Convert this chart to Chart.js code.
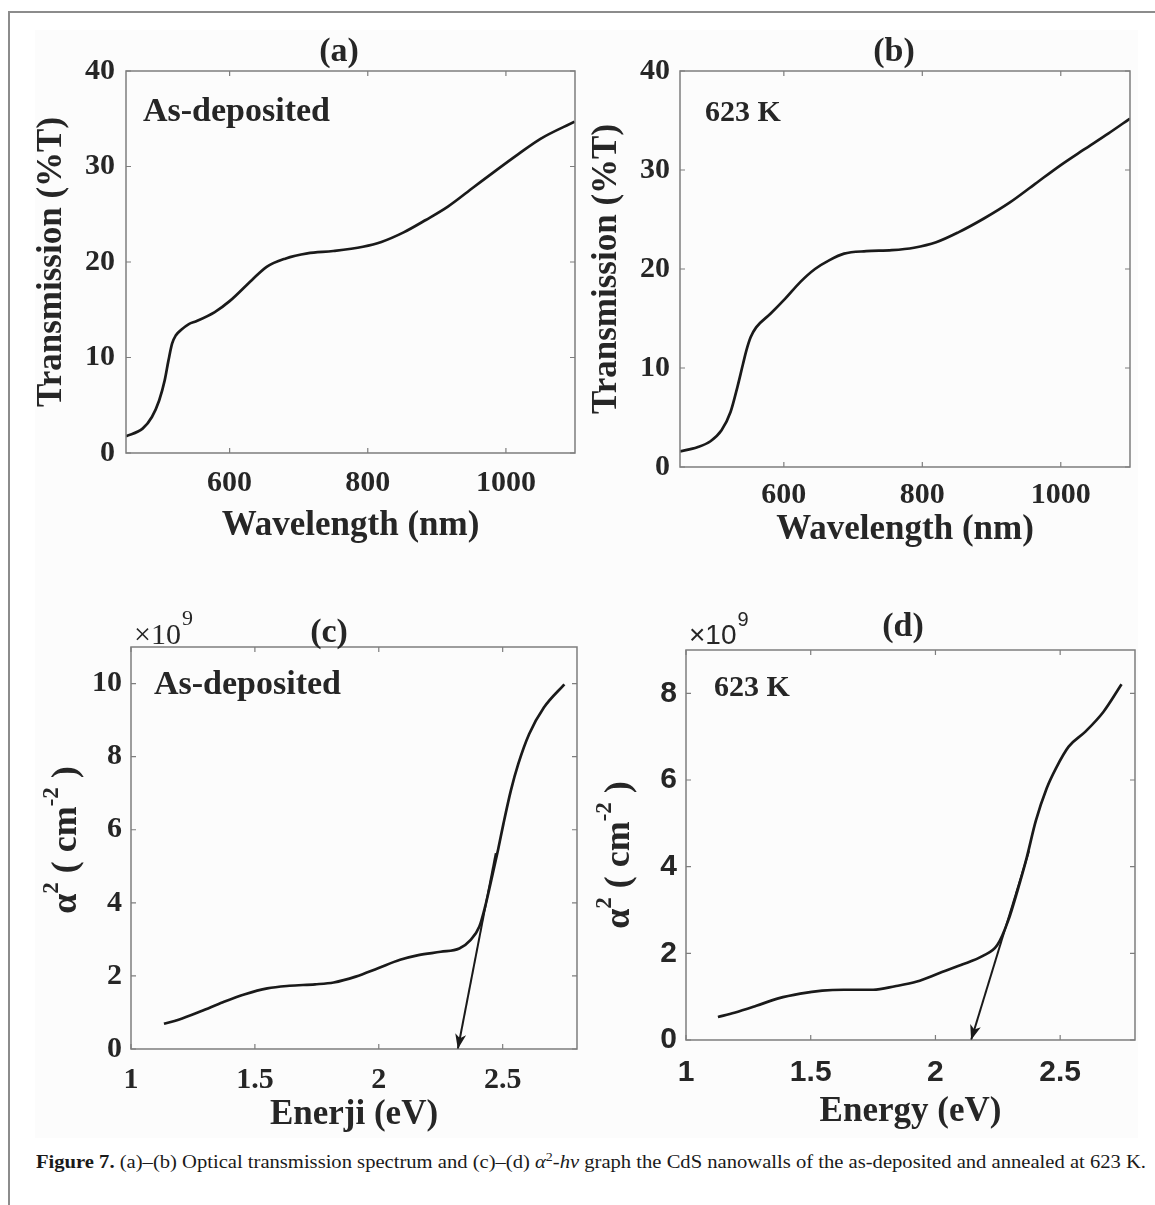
<!DOCTYPE html>
<html><head><meta charset="utf-8">
<script src="https://cdn.jsdelivr.net/npm/chart.js@4.4.1/dist/chart.umd.min.js"></script>
<style>
html,body{margin:0;padding:0;background:#fff;}
body{width:1155px;height:1205px;position:relative;overflow:hidden;}
#frameL{position:absolute;left:8px;top:11px;width:2px;height:1194px;background:#8c8c8c;}
#frameT{position:absolute;left:8px;top:11px;width:1147px;height:2px;background:#8c8c8c;}
#fig{position:absolute;left:35px;top:30px;width:1103px;height:1108px;background:#fcfcfc;}
canvas.pane{position:absolute;}
#caption{position:absolute;left:36px;top:1150px;white-space:nowrap;font-family:"Liberation Serif",serif;font-size:19.5px;line-height:24px;color:#1a1a1a;transform-origin:0 0;}
#caption sup{font-size:0.68em;vertical-align:0;position:relative;top:-0.55em;}
</style></head>
<body>
<div id="frameL"></div><div id="frameT"></div><div id="fig"></div>
<canvas id="ca" class="pane" width="590" height="580" style="left:0;top:0"></canvas>
<canvas id="cb" class="pane" width="565" height="580" style="left:590px;top:0"></canvas>
<canvas id="cc" class="pane" width="590" height="560" style="left:0;top:580px"></canvas>
<canvas id="cd" class="pane" width="565" height="560" style="left:590px;top:580px"></canvas>
<div id="caption"><b>Figure 7.</b> (a)–(b) Optical transmission spectrum and (c)–(d) <i>α</i><sup>2</sup>-<i>hv</i> graph the CdS nanowalls of the as-deposited and annealed at 623 K.</div>
<script>
// ===================== DATA =====================
// (a) as-deposited transmission
const wavelengthA   = [450, 474, 487.5, 498, 506, 511.5, 516.7, 522, 530, 541, 551.7, 578.5, 600, 632, 653.6, 680.4, 712.6, 750, 793, 819.7, 851.9, 884, 916, 953.6, 985.8, 1018, 1050, 1099.5];
const transmissionA = [1.75, 2.55, 3.77, 5.5, 7.6, 9.7, 11.45, 12.3, 12.9, 13.5, 13.8, 14.76, 15.9, 18.1, 19.5, 20.35, 20.9, 21.15, 21.6, 22.1, 23.1, 24.4, 25.8, 27.85, 29.6, 31.3, 32.9, 34.7];
// (b) 623 K transmission
const wavelengthB   = [450, 475, 494, 510, 523, 533, 541, 546, 552, 560, 581, 602, 624, 645, 666, 687, 719, 756, 788, 820, 852, 889, 926, 963, 1000, 1032, 1069, 1100];
const transmissionB = [1.58, 2.0, 2.6, 3.7, 5.55, 8.1, 10.4, 11.8, 13.1, 14.1, 15.5, 17.0, 18.7, 20.0, 20.9, 21.55, 21.8, 21.9, 22.15, 22.7, 23.7, 25.1, 26.7, 28.6, 30.5, 32.0, 33.7, 35.2];
// (c) as-deposited alpha^2 (x1e9) vs energy
const energyC  = [1.133, 1.192, 1.282, 1.371, 1.46, 1.55, 1.639, 1.743, 1.818, 1.907, 1.997, 2.086, 2.16, 2.25, 2.325, 2.37, 2.406, 2.429, 2.451, 2.481, 2.503, 2.533, 2.563, 2.607, 2.667, 2.749];
const alphaSqC = [0.69, 0.8, 1.03, 1.28, 1.5, 1.66, 1.73, 1.77, 1.82, 1.98, 2.21, 2.44, 2.57, 2.66, 2.75, 2.98, 3.35, 3.89, 4.53, 5.44, 6.16, 7.07, 7.8, 8.62, 9.35, 9.98];
// (d) 623 K alpha^2 (x1e9) vs energy
const energyD  = [1.128, 1.194, 1.282, 1.37, 1.458, 1.546, 1.633, 1.75, 1.838, 1.926, 2.014, 2.102, 2.19, 2.248, 2.292, 2.329, 2.366, 2.402, 2.446, 2.483, 2.534, 2.6, 2.673, 2.746];
const alphaSqD = [0.53, 0.63, 0.79, 0.96, 1.07, 1.14, 1.16, 1.16, 1.24, 1.35, 1.54, 1.73, 1.94, 2.19, 2.76, 3.45, 4.21, 5.05, 5.81, 6.27, 6.77, 7.11, 7.57, 8.21];
// tangent (band-gap) arrows: start -> tip
const arrowCx = [2.472, 2.319];
const arrowCy = [5.36, 0];
const arrowDx = [2.375, 2.143];
const arrowDy = [4.36, 0];
// axis ranges and ticks
const wavelengthRange = [450, 1100];
const transRange = [0, 40];
const energyRange = [1, 2.8];
const alphaRangeC = [0, 11];
const alphaRangeD = [0, 9];
const wavelengthTicks = [600, 800, 1000];
const wavelengthTickLabels = ['600', '800', '1000'];
const transTicks = [0, 10, 20, 30, 40];
const transTickLabels = ['0', '10', '20', '30', '40'];
const energyTicks = [1, 1.5, 2, 2.5];
const energyTickLabels = ['1', '1.5', '2', '2.5'];
const alphaTicksC = [0, 2, 4, 6, 8, 10];
const alphaTickLabelsC = ['0', '2', '4', '6', '8', '10'];
const alphaTicksD = [0, 2, 4, 6, 8];
const alphaTickLabelsD = ['0', '2', '4', '6', '8'];
// texts
const panelLetters = ['(a)', '(b)', '(c)', '(d)'];
const sampleNotes = ['As-deposited', '623 K', 'As-deposited', '623 K'];
const xTitles = ['Wavelength (nm)', 'Wavelength (nm)', 'Enerji (eV)', 'Energy (eV)'];
const yTitleTrans = 'Transmission (%T)';

// ===================== STYLE / LAYOUT =====================
const SERIF = '"Liberation Serif", "Times New Roman", serif';
const SANS = '"Liberation Sans", Arial, sans-serif';
const TXT = '#262626';
const LINE = '#1a1a1a';
const BOX = '#7d7d7d';
const XH = 100;

const pts = (xs, ys) => xs.map((x, i) => ({x: x, y: ys[i]}));

const decor = {
  id: 'decor',
  afterDraw(chart) {
    const o = chart.options.plugins.decor;
    const ctx = chart.ctx;
    const ca = chart.chartArea;
    const xs = chart.scales.x, ys = chart.scales.y;
    ctx.save();
    // box
    ctx.strokeStyle = BOX; ctx.lineWidth = 1.5;
    ctx.strokeRect(ca.left, ca.top, ca.right - ca.left, ca.bottom - ca.top);
    // inward ticks on all sides
    ctx.lineWidth = 1.2;
    ctx.beginPath();
    xs.ticks.forEach(t => {
      const p = xs.getPixelForValue(t.value);
      ctx.moveTo(p, ca.bottom); ctx.lineTo(p, ca.bottom - 5);
      ctx.moveTo(p, ca.top); ctx.lineTo(p, ca.top + 5);
    });
    ys.ticks.forEach(t => {
      const p = ys.getPixelForValue(t.value);
      ctx.moveTo(ca.left, p); ctx.lineTo(ca.left + 5, p);
      ctx.moveTo(ca.right, p); ctx.lineTo(ca.right - 5, p);
    });
    ctx.stroke();
    const ox = o.cx, oy = o.cy;
    ctx.fillStyle = TXT;
    // panel letter
    ctx.font = 'bold 34px ' + SERIF;
    ctx.textAlign = 'center'; ctx.textBaseline = 'middle';
    ctx.fillText(o.letter, o.letterPos[0] - ox, o.letterPos[1] - oy);
    // sample note
    ctx.font = 'bold ' + o.noteSize + 'px ' + SERIF;
    ctx.textAlign = 'left';
    ctx.fillText(o.note, o.notePos[0] - ox, o.notePos[1] - oy);
    // multiplier x10^9
    if (o.mult) {
      const f = o.mult.font;
      ctx.font = o.mult.size + 'px ' + f;
      ctx.textAlign = 'left'; ctx.textBaseline = 'middle';
      const mx = o.mult.pos[0] - ox, my = o.mult.pos[1] - oy;
      ctx.fillText('×10', mx, my);
      const w = ctx.measureText('×10').width;
      ctx.font = Math.round(o.mult.size * 0.72) + 'px ' + f;
      ctx.fillText('9', mx + w + 1, my - o.mult.size * 0.55);
    }
    // custom y title alpha^2 ( cm^-2 )
    if (o.alphaTitle) {
      const big = 'bold 36px ' + SERIF, small = 'bold 23px ' + SERIF;
      const parts = [['α', big, 0], ['2', small, -15], [' ( cm', big, 0], ['-2', small, -15], [' )', big, 0]];
      let total = 0;
      parts.forEach(p => { ctx.font = p[1]; total += ctx.measureText(p[0]).width; });
      ctx.translate(o.alphaTitle[0] - ox, o.alphaTitle[1] - oy);
      ctx.rotate(-Math.PI / 2);
      ctx.textAlign = 'left'; ctx.textBaseline = 'middle';
      let x = -total / 2;
      parts.forEach(p => { ctx.font = p[1]; ctx.fillText(p[0], x, p[2]); x += ctx.measureText(p[0]).width; });
      ctx.setTransform(1, 0, 0, 1, 0, 0);
    }
    // arrowhead
    if (o.arrowDs !== undefined) {
      const d = chart.data.datasets[o.arrowDs].data;
      const a = d[d.length - 2], b = d[d.length - 1];
      const x1 = xs.getPixelForValue(a.x), y1 = ys.getPixelForValue(a.y);
      const x2 = xs.getPixelForValue(b.x), y2 = ys.getPixelForValue(b.y);
      const ang = Math.atan2(y2 - y1, x2 - x1);
      const L = 15, W = 5.5, N = 4;
      ctx.translate(x2, y2); ctx.rotate(ang);
      ctx.fillStyle = LINE;
      ctx.beginPath();
      ctx.moveTo(0, 0); ctx.lineTo(-L, -W); ctx.lineTo(-L + N, 0); ctx.lineTo(-L, W); ctx.closePath();
      ctx.fill();
      ctx.setTransform(1, 0, 0, 1, 0, 0);
    }
    ctx.restore();
  }
};

function makePanel(cfg) {
  const c = document.getElementById(cfg.id);
  const tickFont = {family: cfg.tickFamily, size: 30, weight: 'bold', lineHeight: 1.2};
  const titleSize = 35;
  const datasets = [{data: pts(cfg.xs, cfg.ys), borderColor: LINE, borderWidth: 2.7, pointRadius: 0,
    cubicInterpolationMode: 'monotone', fill: false}];
  if (cfg.ax) datasets.push({data: pts(cfg.ax, cfg.ay), borderColor: LINE, borderWidth: 2, pointRadius: 0, tension: 0, fill: false});
  new Chart(c, {
    type: 'line',
    data: {datasets: datasets},
    plugins: [decor],
    options: {
      responsive: false, animation: false, devicePixelRatio: 1,
      layout: {autoPadding: false, padding: {left: 0, top: cfg.T - cfg.cy, right: cfg.cx + c.width - cfg.R, bottom: cfg.cy + c.height - cfg.B - XH}},
      plugins: {legend: {display: false}, tooltip: {enabled: false},
        decor: {cx: cfg.cx, cy: cfg.cy, letter: cfg.letter, letterPos: cfg.letterPos, note: cfg.note, notePos: cfg.notePos,
          noteSize: cfg.noteSize, mult: cfg.mult, alphaTitle: cfg.alphaTitle, arrowDs: cfg.ax ? 1 : undefined}},
      scales: {
        x: {type: 'linear', position: 'bottom', min: cfg.xr[0], max: cfg.xr[1],
          afterBuildTicks: s => { s.ticks = cfg.xt.map(v => ({value: v})); },
          afterFit: s => { s.height = XH; },
          grid: {display: false, drawTicks: false}, border: {display: false},
          ticks: {padding: cfg.xTickPad, font: tickFont, color: TXT, maxRotation: 0, autoSkip: false,
            callback: (v) => cfg.xl[cfg.xt.indexOf(v)]},
          title: {display: true, text: cfg.xTitle, color: TXT, font: {family: SERIF, size: titleSize, weight: 'bold', lineHeight: 1},
            padding: {top: 0, bottom: (cfg.B + XH) - cfg.xTitleY - titleSize / 2}}},
        y: {type: 'linear', position: 'left', min: cfg.yr[0], max: cfg.yr[1],
          afterBuildTicks: s => { s.ticks = cfg.yt.map(v => ({value: v})); },
          afterFit: s => { s.width = cfg.L - cfg.cx; },
          grid: {display: false, drawTicks: false}, border: {display: false},
          ticks: {padding: cfg.yTickPad, font: tickFont, color: TXT, autoSkip: false,
            callback: (v) => cfg.yl[cfg.yt.indexOf(v)]},
          title: {display: !!cfg.yTitle, text: cfg.yTitle || '', color: TXT, font: {family: SERIF, size: titleSize, weight: 'bold', lineHeight: 1},
            padding: {top: (cfg.yTitleX || 0) - cfg.cx - titleSize / 2, bottom: 0}}}
      }
    }
  });
}

makePanel({id: 'ca', cx: 0, cy: 0, L: 126, T: 71, R: 575, B: 453,
  xs: wavelengthA, ys: transmissionA, xr: wavelengthRange, yr: transRange,
  xt: wavelengthTicks, xl: wavelengthTickLabels, yt: transTicks, yl: transTickLabels,
  tickFamily: SERIF, xTickPad: 12, yTickPad: 11, xTitle: xTitles[0], xTitleY: 526, yTitle: yTitleTrans, yTitleX: 52,
  letter: panelLetters[0], letterPos: [339, 52], note: sampleNotes[0], notePos: [143, 112], noteSize: 34});
makePanel({id: 'cb', cx: 590, cy: 0, L: 680, T: 71, R: 1130, B: 467,
  xs: wavelengthB, ys: transmissionB, xr: wavelengthRange, yr: transRange,
  xt: wavelengthTicks, xl: wavelengthTickLabels, yt: transTicks, yl: transTickLabels,
  tickFamily: SERIF, xTickPad: 10, yTickPad: 10, xTitle: xTitles[1], xTitleY: 530, yTitle: yTitleTrans, yTitleX: 607,
  letter: panelLetters[1], letterPos: [894, 52], note: sampleNotes[1], notePos: [705, 113], noteSize: 30});
makePanel({id: 'cc', cx: 0, cy: 580, L: 131, T: 647, R: 577, B: 1049,
  xs: energyC, ys: alphaSqC, xr: energyRange, yr: alphaRangeC, ax: arrowCx, ay: arrowCy,
  xt: energyTicks, xl: energyTickLabels, yt: alphaTicksC, yl: alphaTickLabelsC,
  tickFamily: SERIF, xTickPad: 13, yTickPad: 9, xTitle: xTitles[2], xTitleY: 1115, alphaTitle: [67, 840],
  letter: panelLetters[2], letterPos: [329, 633], note: sampleNotes[2], notePos: [154, 685], noteSize: 34,
  mult: {pos: [134, 636], size: 30, font: SERIF}});
makePanel({id: 'cd', cx: 590, cy: 580, L: 686, T: 650, R: 1135, B: 1040,
  xs: energyD, ys: alphaSqD, xr: energyRange, yr: alphaRangeD, ax: arrowDx, ay: arrowDy,
  xt: energyTicks, xl: energyTickLabels, yt: alphaTicksD, yl: alphaTickLabelsD,
  tickFamily: SANS, xTickPad: 15, yTickPad: 9, xTitle: xTitles[3], xTitleY: 1112, alphaTitle: [620, 855],
  letter: panelLetters[3], letterPos: [903, 627], note: sampleNotes[3], notePos: [714, 688], noteSize: 30,
  mult: {pos: [689, 636], size: 28, font: SANS}});

// fit caption width
(function () {
  const cap = document.getElementById('caption');
  const w = cap.getBoundingClientRect().width;
  const target = 1110;
  cap.style.transform = 'scaleX(' + (target / w) + ')';
})();
</script>
</body></html>
